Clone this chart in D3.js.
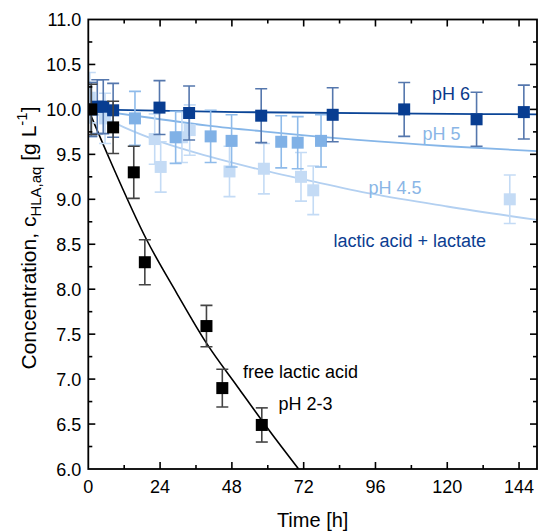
<!DOCTYPE html>
<html>
<head>
<meta charset="utf-8">
<script src="https://cdn.jsdelivr.net/npm/d3@7"></script>
<style>
  body { margin: 0; background: #fff; }
  svg text { font-family: "Liberation Sans", Arial, sans-serif; }
</style>
</head>
<body>
<div id="chart"></div>
<script>
// tick values
const timeTicks = [0, 24, 48, 72, 96, 120, 144]
const concTicks = [6.0, 6.5, 7.0, 7.5, 8.0, 8.5, 9.0, 9.5, 10.0, 10.5, 11.0]

// measured points (time h, concentration g/L, error)
const ph23Time = [1, 8.3, 15.2, 18.9, 39.5, 44.8, 58]
const ph23Conc = [10.0, 9.80, 9.30, 8.30, 7.59, 6.90, 6.49]
const ph23Err  = [0.28, 0.29, 0.29, 0.25, 0.23, 0.21, 0.19]

const ph45Time = [0.5, 5.6, 22.2, 24.2, 31.3, 33.9, 47.2, 58.7, 71.1, 75.2, 140.9]
const ph45Conc = [10.13, 9.90, 9.67, 9.36, 9.69, 9.77, 9.31, 9.34, 9.25, 9.10, 9.00]
const ph45Err  = [0.28, 0.28, 0.28, 0.28, 0.28, 0.28, 0.28, 0.28, 0.27, 0.27, 0.27]

const ph5Time = [1, 15.6, 29.2, 40.9, 47.9, 64.5, 70, 77.8]
const ph5Conc = [10.0, 9.90, 9.69, 9.70, 9.65, 9.64, 9.63, 9.65]
const ph5Err  = [0.3, 0.3, 0.29, 0.29, 0.29, 0.29, 0.29, 0.29]

const ph6Time = [1, 3, 5, 8.3, 23.8, 33.7, 57.8, 81.7, 105.6, 129.8, 145.6]
const ph6Conc = [10.0, 10.03, 10.03, 9.99, 10.02, 9.96, 9.93, 9.94, 10.0, 9.89, 9.97]
const ph6Err  = [0.3, 0.3, 0.3, 0.3, 0.3, 0.3, 0.3, 0.3, 0.3, 0.3, 0.3]

// model curves
const fit23Time = [0, 7.2, 19.5, 29.5, 39.5, 50, 60, 70.3, 75]
const fit23Conc = [10.0, 9.44, 8.55, 7.96, 7.40, 6.91, 6.45, 6.0, 5.8]
const fit45Time = [0, 12, 25, 40, 55, 75, 95, 120, 150]
const fit45Conc = [10.0, 9.8, 9.63, 9.48, 9.35, 9.2, 9.06, 8.92, 8.77]
const fit5Time = [0, 20, 40, 60, 90, 120, 150]
const fit5Conc = [10.0, 9.91, 9.82, 9.75, 9.66, 9.59, 9.535]
const fit6Time = [0, 50, 100, 150]
const fit6Conc = [10.0, 9.97, 9.955, 9.945]

const width = 538
const height = 531
const pLeft = 88.3, pRight = 537, pTop = 19.5, pBottom = 469

var svg = d3.select("#chart")
            .append("svg")
              .attr("width", width)
              .attr("height", height)

var x = d3.scaleLinear().domain([0, 150]).range([pLeft, pRight])
var y = d3.scaleLinear().domain([6, 11]).range([pBottom, pTop])

svg.append("clipPath").attr("id", "plot")
   .append("rect")
     .attr("x", pLeft).attr("y", pTop)
     .attr("width", pRight - pLeft).attr("height", pBottom - pTop)

var plot = svg.append("g").attr("clip-path", "url(#plot)")

var zip = (t, c, e) => t.map((d, i) => ({t: d, c: c[i], e: e ? e[i] : 0}))

var line = d3.line()
             .x(d => x(d.t))
             .y(d => y(d.c))
             .curve(d3.curveMonotoneX)

// fitted curves
plot.append("path").datum(zip(fit45Time, fit45Conc))
    .attr("d", line).attr("fill", "none").attr("stroke", "#b3d0f1").attr("stroke-width", 1.8)
plot.append("path").datum(zip(fit5Time, fit5Conc))
    .attr("d", line).attr("fill", "none").attr("stroke", "#86b6e8").attr("stroke-width", 1.8)
plot.append("path").datum(zip(fit6Time, fit6Conc))
    .attr("d", line).attr("fill", "none").attr("stroke", "#0b4597").attr("stroke-width", 1.8)
plot.append("path").datum(zip(fit23Time, fit23Conc))
    .attr("d", line).attr("fill", "none").attr("stroke", "#000").attr("stroke-width", 1.6)

function drawSeries(data, color, errColor) {
  var g = plot.append("g")
  var eb = g.selectAll(".err").data(data).enter().append("g")
  eb.append("line")
      .attr("x1", d => x(d.t)).attr("x2", d => x(d.t))
      .attr("y1", d => y(d.c + d.e)).attr("y2", d => y(d.c - d.e))
      .attr("stroke", errColor).attr("stroke-width", 1.6)
  eb.append("line")
      .attr("x1", d => x(d.t) - 6).attr("x2", d => x(d.t) + 6)
      .attr("y1", d => y(d.c + d.e)).attr("y2", d => y(d.c + d.e))
      .attr("stroke", errColor).attr("stroke-width", 1.6)
  eb.append("line")
      .attr("x1", d => x(d.t) - 6).attr("x2", d => x(d.t) + 6)
      .attr("y1", d => y(d.c - d.e)).attr("y2", d => y(d.c - d.e))
      .attr("stroke", errColor).attr("stroke-width", 1.6)
  g.selectAll(".pt").data(data).enter()
    .append("rect")
      .attr("x", d => x(d.t) - 6).attr("y", d => y(d.c) - 6)
      .attr("width", 12).attr("height", 12)
      .attr("fill", color)
}

drawSeries(zip(ph45Time, ph45Conc, ph45Err), "#c4dbf5", "#c4dbf5")
drawSeries(zip(ph5Time, ph5Conc, ph5Err), "#80b1e6", "#8fbbea")
drawSeries(zip(ph6Time, ph6Conc, ph6Err), "#083d91", "#5577ad")
drawSeries(zip(ph23Time, ph23Conc, ph23Err), "#000", "#444")

// frame and ticks
var frame = svg.append("g").attr("stroke", "#000").attr("fill", "none")
frame.append("rect")
  .attr("x", pLeft).attr("y", pTop)
  .attr("width", pRight - pLeft).attr("height", pBottom - pTop)
  .attr("stroke-width", 1.8)

var xMinor = d3.range(12, 150, 24)
var yMinor = d3.range(6.25, 11, 0.5)

function ticks(vals, len, scale, horiz) {
  vals.forEach(v => {
    if (horiz) {
      frame.append("line").attr("x1", scale(v)).attr("x2", scale(v))
        .attr("y1", pBottom).attr("y2", pBottom - len).attr("stroke-width", 1.6)
      frame.append("line").attr("x1", scale(v)).attr("x2", scale(v))
        .attr("y1", pTop).attr("y2", pTop + len).attr("stroke-width", 1.6)
    } else {
      frame.append("line").attr("y1", scale(v)).attr("y2", scale(v))
        .attr("x1", pLeft).attr("x2", pLeft + len).attr("stroke-width", 1.6)
      frame.append("line").attr("y1", scale(v)).attr("y2", scale(v))
        .attr("x1", pRight).attr("x2", pRight - len).attr("stroke-width", 1.6)
    }
  })
}
ticks(timeTicks.slice(1), 7, x, true)
ticks(xMinor, 4, x, true)
ticks(concTicks.slice(1, -1), 7, y, false)
ticks(yMinor, 4, y, false)

// tick labels
svg.selectAll(".xl").data(timeTicks).enter()
  .append("text")
    .attr("x", d => x(d)).attr("y", 493)
    .attr("text-anchor", "middle")
    .attr("font-size", 18)
    .text(d => d)

svg.selectAll(".yl").data(concTicks).enter()
  .append("text")
    .attr("x", pLeft - 7).attr("y", d => y(d) + 6.5)
    .attr("text-anchor", "end")
    .attr("font-size", 18)
    .text(d => d.toFixed(1))

// axis titles
svg.append("text")
    .attr("x", (pLeft + pRight) / 2).attr("y", 527)
    .attr("text-anchor", "middle")
    .attr("font-size", 20)
    .text("Time [h]")

var yt = svg.append("text")
    .attr("transform", "translate(36,238) rotate(-90)")
    .attr("text-anchor", "middle")
    .attr("font-size", 21)
yt.append("tspan").text("Concentration, c")
yt.append("tspan").attr("font-size", 15).attr("dy", 5).text("HLA,aq")
yt.append("tspan").attr("dy", -5).text(" [g L")
yt.append("tspan").attr("font-size", 15).attr("dy", -9).text("-1")
yt.append("tspan").attr("dy", 9).text("]")

// annotations
var notes = [
  {text: "pH 6", x: 432, y: 100, color: "#0b3a8a"},
  {text: "pH 5", x: 422.5, y: 139.5, color: "#8ab6e6"},
  {text: "pH 4.5", x: 368.5, y: 194, color: "#8ab6e6"},
  {text: "lactic acid + lactate", x: 333.5, y: 246.5, color: "#0b3d91"},
  {text: "free lactic acid", x: 243, y: 378, color: "#000"},
  {text: "pH 2-3", x: 278.5, y: 410, color: "#000"}
]
svg.selectAll(".note").data(notes).enter()
  .append("text")
    .attr("x", d => d.x).attr("y", d => d.y)
    .attr("font-size", 18)
    .attr("fill", d => d.color)
    .text(d => d.text)
</script>
</body>
</html>
